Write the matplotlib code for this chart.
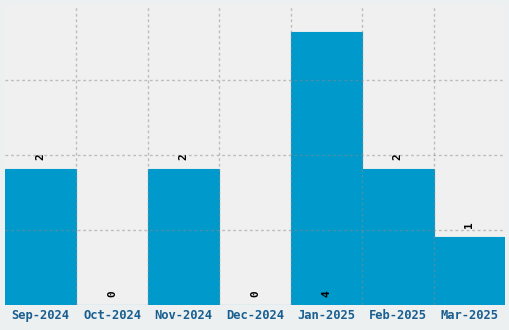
import matplotlib
matplotlib.use('Agg')
import matplotlib.pyplot as plt
import numpy as np

months = ['Sep-2024', 'Oct-2024', 'Nov-2024', 'Dec-2024', 'Jan-2025', 'Feb-2025', 'Mar-2025']
counts = [2, 0, 2, 0, 4, 2, 1]

BAR_COLOR = '#0099cc'
TICK_COLOR = '#1a5e90'

fig = plt.figure(figsize=(5.1, 3.3), dpi=100, facecolor='#ecf0f1')
ax = fig.add_axes([5 / 510, 25 / 330, 500 / 510, 300 / 330])
ax.set_facecolor('#f0f0f0')

x = np.arange(len(months))
ax.bar(x, counts, width=1.0, color=BAR_COLOR, edgecolor=BAR_COLOR,
       linewidth=0.8, zorder=1)

ymax = max(counts) * 1.1
ax.set_xlim(-0.5, len(months) - 0.5)
ax.set_ylim(0, ymax)

# grid: vertical lines between bars, horizontal at quarters of the range
ax.set_xticks(x[:-1] + 0.5, minor=True)
ax.set_yticks(np.linspace(0, ymax, 5)[1:-1])
ax.grid(True, which='minor', axis='x', color='#8a8a8a', alpha=0.5,
        linestyle=(0, (2, 2)), linewidth=1, zorder=3)
ax.grid(True, which='major', axis='y', color='#8a8a8a', alpha=0.5,
        linestyle=(0, (2, 2)), linewidth=1, zorder=3)
ax.set_axisbelow(False)

ax.set_xticks(x)
ax.set_xticklabels(months, family='DejaVu Sans Mono', fontweight='bold',
                   fontsize=8.7, color=TICK_COLOR)
ax.tick_params(axis='both', which='both', length=0)
ax.tick_params(axis='x', pad=3)
ax.set_yticklabels([])
for s in ax.spines.values():
    s.set_visible(False)

# value labels (the tallest one sits inside its bar, at the bottom)
for xi, v in zip(x, counts):
    y = 0 if v == max(counts) else v
    ax.annotate(str(v), (xi, y), xytext=(0, 6), textcoords='offset points',
                ha='center', va='bottom', rotation=90, fontsize=8,
                family='DejaVu Sans Mono', fontweight='bold', color='black',
                zorder=4)

fig.savefig('out.png', dpi=100, facecolor=fig.get_facecolor())
